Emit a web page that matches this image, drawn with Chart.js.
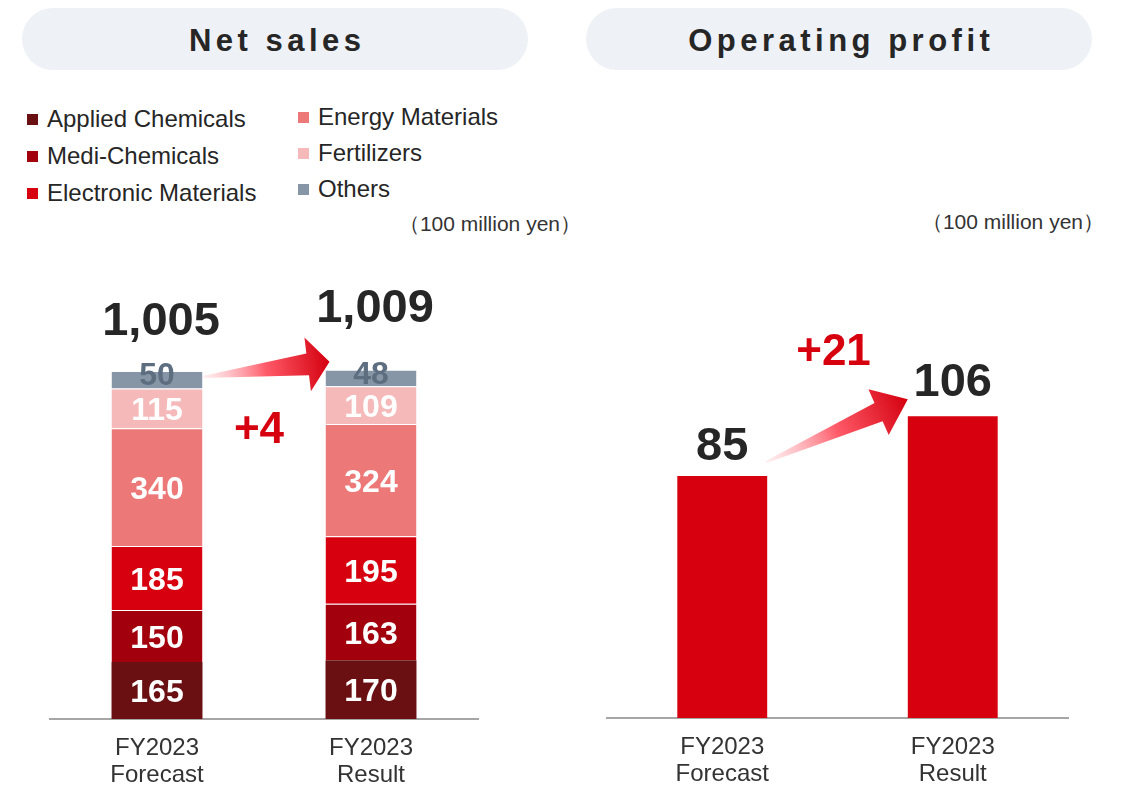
<!DOCTYPE html>
<html>
<head>
<meta charset="utf-8">
<script src="https://cdn.jsdelivr.net/npm/chart.js@4.4.0/dist/chart.umd.min.js"></script>
<style>
body { margin:0; width:1122px; height:785px; background:#fff; position:relative; overflow:hidden;
  font-family:"Liberation Sans", Arial, sans-serif; }
.pill { position:absolute; top:8px; height:62px; width:506px; border-radius:31px; background:#eef1f5;
  color:#262626; font-weight:bold; font-size:31px; letter-spacing:4.5px; padding-left:4.5px; box-sizing:border-box;
  text-align:center; line-height:66px; }
.unit { position:absolute; font-size:21px; line-height:24px; color:#333; white-space:nowrap; }
.legend-item { position:absolute; display:flex; align-items:center; font-size:24px; line-height:26px; color:#262626; white-space:nowrap; }
.legend-item .box { width:11px; height:11px; margin-right:9px; }
canvas { position:absolute; }
</style>
</head>
<body>
<div class="pill" style="left:22px">Net sales</div>
<div class="pill" style="left:586px">Operating profit</div>
<div id="legend"></div>
<div class="unit" style="right:541px; top:212px">（100 million yen）</div>
<div class="unit" style="right:18px; top:210px">（100 million yen）</div>
<canvas id="salesChart" width="470" height="545" style="left:30px; top:240px"></canvas>
<canvas id="profitChart" width="500" height="545" style="left:590px; top:240px"></canvas>
<script>
// data
var categories = [['FY2023', 'Forecast'], ['FY2023', 'Result']];
var segments = ['Applied Chemicals', 'Medi-Chemicals', 'Electronic Materials', 'Energy Materials', 'Fertilizers', 'Others'];
var appliedChemicals = [165, 170];
var mediChemicals = [150, 163];
var electronicMaterials = [185, 195];
var energyMaterials = [340, 324];
var fertilizers = [115, 109];
var others = [50, 48];
var operatingProfit = [85, 106];

var segmentColors = ['#6a0f12', '#a1000c', '#d7000f', '#ec7878', '#f5b9b9', '#8796a6'];
var FONT = '"Liberation Sans", Arial, sans-serif';

// legend, two columns of three
var legend = document.getElementById('legend');
for (var i = 0; i < segments.length; i++) {
	var col = Math.floor(i / 3), row = i % 3;
	var item = document.createElement('div');
	item.className = 'legend-item';
	item.style.left = (col === 0 ? 27 : 298) + 'px';
	item.style.top = (col === 0 ? 119 + row * 37 : 117 + row * 36) - 13 + 'px';
	item.innerHTML = '<span class="box" style="background:' + segmentColors[i] + '"></span>' + segments[i];
	legend.appendChild(item);
}

function drawArrow(ctx, x0, y0, x1, y1, headLen, headHalf, bodyHalf) {
	var dx = x1 - x0, dy = y1 - y0, len = Math.hypot(dx, dy);
	var ux = dx / len, uy = dy / len, nx = -uy, ny = ux;
	var bx = x1 - ux * headLen, by = y1 - uy * headLen;
	var g = ctx.createLinearGradient(x0, y0, x1, y1);
	g.addColorStop(0, 'rgba(255,225,228,0.5)');
	g.addColorStop(0.5, '#ff5a68');
	g.addColorStop(1, '#d4000f');
	ctx.beginPath();
	ctx.moveTo(x0 + nx, y0 + ny);
	ctx.lineTo(bx + nx * bodyHalf, by + ny * bodyHalf);
	ctx.lineTo(bx + nx * headHalf, by + ny * headHalf);
	ctx.lineTo(x1, y1);
	ctx.lineTo(bx - nx * headHalf, by - ny * headHalf);
	ctx.lineTo(bx - nx * bodyHalf, by - ny * bodyHalf);
	ctx.lineTo(x0 - nx, y0 - ny);
	ctx.closePath();
	ctx.fillStyle = g;
	ctx.fill();
}

// value labels, totals, arrow and difference
var labelPlugin = {
	id: 'labels',
	afterDatasetsDraw: function (chart, args, opts) {
		var ctx = chart.ctx;
		var n = chart.data.datasets.length;
		ctx.save();
		ctx.textAlign = 'center';
		ctx.textBaseline = 'middle';
		if (opts.inside) {
			chart.data.datasets.forEach(function (ds, i) {
				chart.getDatasetMeta(i).data.forEach(function (bar, j) {
					var last = i === n - 1;
					ctx.font = 'bold 32px ' + FONT;
					ctx.fillStyle = last ? '#5d6e80' : '#fff';
					var y = last ? bar.y + 5 : (bar.y + bar.base) / 2 + 3;
					ctx.fillText(ds.data[j], bar.x, y);
				});
			});
		}
		var tops = chart.getDatasetMeta(n - 1).data;
		var totals = [0, 0];
		chart.data.datasets.forEach(function (ds) {
			totals[0] += ds.data[0];
			totals[1] += ds.data[1];
		});
		ctx.font = 'bold 47px ' + FONT;
		ctx.fillStyle = '#262626';
		tops.forEach(function (bar, j) {
			ctx.fillText(totals[j].toLocaleString('en-US'), bar.x + (opts.totalDx || 0), bar.y - opts.totalOffset[j]);
		});
		var b0 = tops[0], b1 = tops[1];
		var a = opts.arrow;
		drawArrow(ctx, b0.x + b0.width / 2 + a.tail[0], b0.y + a.tail[1],
			b1.x - b1.width / 2 + a.tip[0], b1.y + a.tip[1], a.headLen, a.headHalf, a.bodyHalf);
		ctx.font = 'bold ' + opts.deltaSize + 'px ' + FONT;
		ctx.fillStyle = '#d7000f';
		ctx.fillText('+' + (totals[1] - totals[0]), (b0.x + b1.x) / 2 + opts.delta[0], (opts.delta[2] ? b1.y : b0.y) + opts.delta[1]);
		ctx.restore();
	}
};

function xAxis(h) {
	return {
		grid: { display: false, drawTicks: false },
		border: { display: true, color: '#a6a6a6', width: 2 },
		ticks: { color: '#333', font: { family: FONT, size: 24, lineHeight: 1.125 }, padding: 16 },
		afterFit: function (s) { s.height = h; }
	};
}

var segmentData = [appliedChemicals, mediChemicals, electronicMaterials, energyMaterials, fertilizers, others];

new Chart(document.getElementById('salesChart'), {
	type: 'bar',
	data: {
		labels: categories,
		datasets: segmentData.map(function (d, i) {
			return {
				label: segments[i],
				data: d,
				backgroundColor: segmentColors[i],
				borderColor: 'rgba(255,255,255,0.35)',
				borderWidth: { top: i === 0 ? 0 : 1, right: 0, bottom: 0, left: 0 },
				borderSkipped: false,
				barPercentage: 0.425,
				categoryPercentage: 1
			};
		})
	},
	options: {
		responsive: false,
		animation: false,
		layout: { padding: { left: 20, right: 22, top: 29, bottom: 0 } },
		plugins: {
			legend: { display: false },
			tooltip: { enabled: false },
			labels: {
				inside: true,
				totalOffset: [49, 61],
				totalDx: 4,
				arrow: { tail: [0, 6], tip: [4, -8], headLen: 22, headHalf: 27, bodyHalf: 11 },
				deltaSize: 44,
				delta: [-5, 60, 0]
			}
		},
		scales: {
			x: Object.assign(xAxis(66), { stacked: true }),
			y: { display: false, stacked: true, min: 0, max: 1300 }
		}
	},
	plugins: [labelPlugin]
});

new Chart(document.getElementById('profitChart'), {
	type: 'bar',
	data: {
		labels: categories,
		datasets: [{
			label: 'Operating profit',
			data: operatingProfit,
			backgroundColor: '#d7000f',
			barPercentage: 0.39,
			categoryPercentage: 1
		}]
	},
	options: {
		responsive: false,
		animation: false,
		layout: { padding: { left: 17, right: 22, top: 51, bottom: 0 } },
		plugins: {
			legend: { display: false },
			tooltip: { enabled: false },
			labels: {
				inside: false,
				totalOffset: [29, 33],
				totalDx: 0,
				arrow: { tail: [-1, -14], tip: [0, -17], headLen: 32, headHalf: 25, bodyHalf: 10 },
				deltaSize: 44,
				delta: [-4, -63, 1]
			}
		},
		scales: {
			x: xAxis(67),
			y: { display: false, min: 0, max: 150 }
		}
	},
	plugins: [labelPlugin]
});
</script>
</body>
</html>
